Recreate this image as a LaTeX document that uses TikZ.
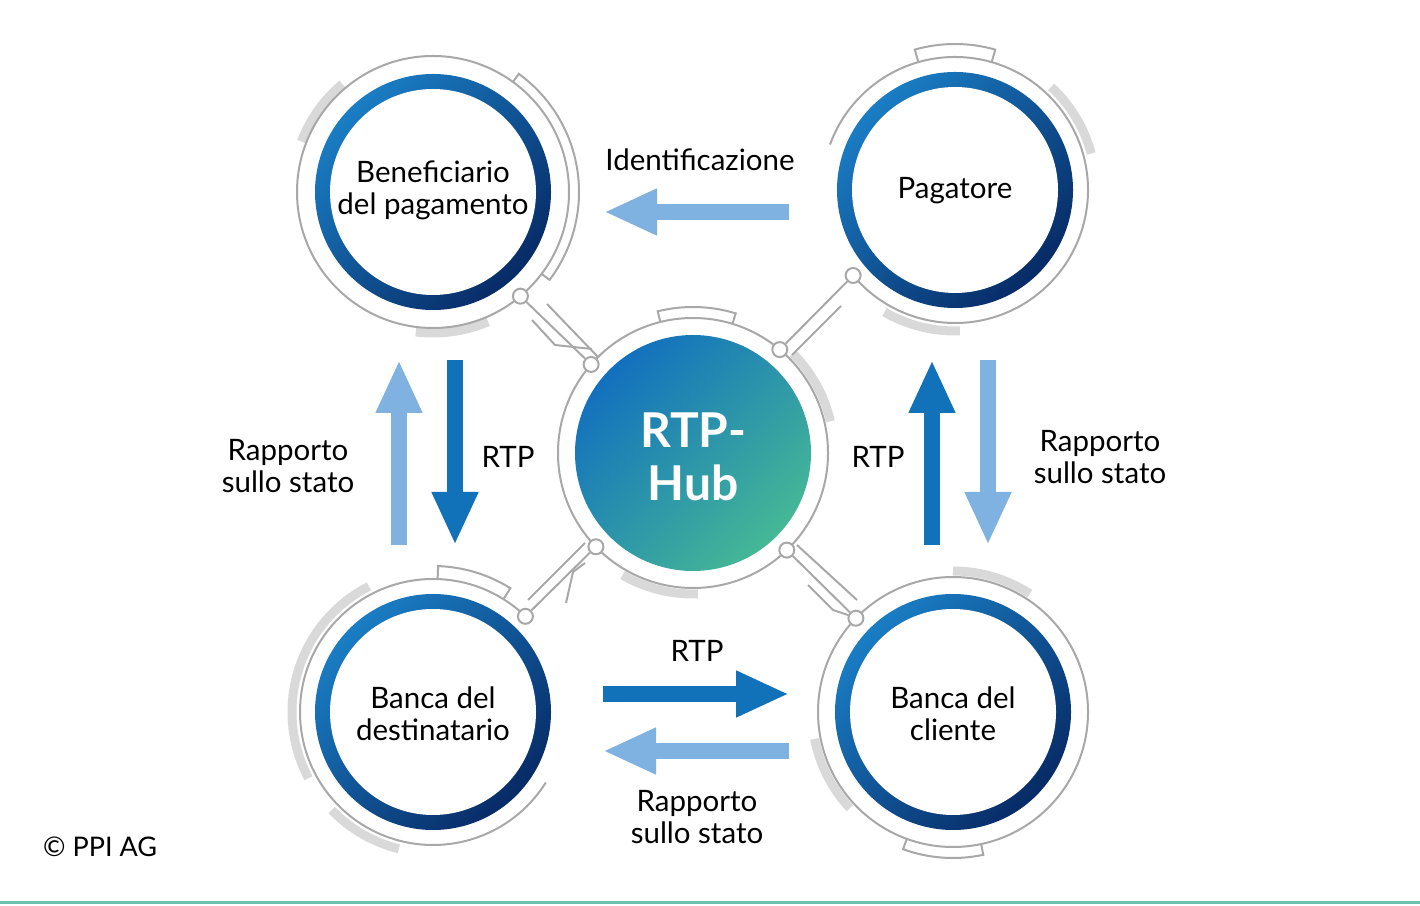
\documentclass[tikz,border=0pt]{standalone}
\usepackage{fontspec}
\setmainfont{Lato}
\usetikzlibrary{arrows.meta}

\definecolor{ringgray}{HTML}{A8A8A8}
\definecolor{bandgray}{HTML}{D9D9D9}
\definecolor{lightblue}{HTML}{7FB2E0}
\definecolor{darkblue}{HTML}{1172BA}
\definecolor{ringtop}{HTML}{1A7DC4}
\definecolor{ringbot}{HTML}{072B66}
\definecolor{hubtop}{HTML}{1270BE}
\definecolor{hubbot}{HTML}{45B896}
\definecolor{tealline}{HTML}{6CC3AE}

\tikzset{
  ring/.style = {draw=ringgray, line width=2pt},
  band/.style = {draw=bandgray, line width=9pt},
  joint/.style = {circle, draw=ringgray, line width=2pt, fill=white, minimum size=15pt, inner sep=0pt},
  bigarrow/.style = {line width=16pt, -{Triangle[length=53pt, width=43pt]}},
  txt/.style = {font=\fontsize{29.5}{32}\selectfont, align=center}
}

% blue ring with white inside
\newcommand{\bluering}[1]{%
  \shade[top color=ringtop, bottom color=ringbot, shading angle=45] (#1) circle (118);
  \fill[white] (#1) circle (103);}
% small bracket outside a ring
\newcommand{\ringtab}[4]{%
  \draw[ring] ([shift={(#2:#4)}]#1) -- ([shift={(#2:146)}]#1)
    arc[start angle=#2, end angle=#3, radius=146] -- ([shift={(#3:#4)}]#1);}
% light gray band
\newcommand{\grayband}[3]{%
  \draw[band] ([shift={(#2:141)}]#1) arc[start angle=#2, end angle=#3, radius=141];}

\begin{document}
\begin{tikzpicture}[x=1pt, y=1pt]
  \useasboundingbox (0,0) rectangle (1420,905);

  \coordinate (ben) at (433,713);
  \coordinate (pag) at (955,715);
  \coordinate (hub) at (693,452);
  \coordinate (dest) at (433,193);
  \coordinate (cli) at (953,193);

  % gray bands
  \grayband{ben}{130}{159}
  \grayband{ben}{263}{293}
  \grayband{pag}{15}{47}
  \grayband{pag}{240}{272}
  \grayband{hub}{13}{45}
  \grayband{hub}{240}{272}
  \grayband{dest}{117}{208}
  \grayband{dest}{224}{256}
  \grayband{cli}{57}{90}
  \grayband{cli}{191}{223}

  % outer rings
  \draw[ring] (ben) circle (136);
  \ringtab{ben}{-37}{54}{136}
  \draw[ring] ([shift={(220:133)}]pag) arc[start angle=220, end angle=520, radius=133];
  \ringtab{pag}{74}{106}{133}
  \draw[ring] (hub) circle (135);
  \ringtab{hub}{73}{104}{135}
  \draw[ring] ([shift={(46:133)}]dest) arc[start angle=46, end angle=328, radius=133];
  \ringtab{dest}{58}{88}{133}
  \draw[ring] (cli) circle (135);
  \ringtab{cli}{250}{282}{135}

  % blue rings and hub
  \bluering{ben}
  \bluering{pag}
  \bluering{dest}
  \bluering{cli}
  \shade[top color=hubtop, bottom color=hubbot, shading angle=45] (hub) circle (118);

  % joints
  \node[joint] (benj) at ([shift={(-50:136)}]ben) {};
  \node[joint] (pagj) at ([shift={(220:133)}]pag) {};
  \node[joint] (destj) at ([shift={(46:133)}]dest) {};
  \node[joint] (clij) at ([shift={(136:135)}]cli) {};
  \node[joint] (hubj1) at ([shift={(139:135)}]hub) {};
  \node[joint] (hubj2) at ([shift={(50:135)}]hub) {};
  \node[joint] (hubj3) at ([shift={(224:135)}]hub) {};
  \node[joint] (hubj4) at ([shift={(314:135)}]hub) {};

  % connectors
  \draw[ring] (benj) -- (hubj1);
  \draw[ring] (547,601) -- (598,548);
  \draw[ring] (532,585) -- (555,560) -- (592,556);
  \draw[ring] (pagj) -- (hubj2);
  \draw[ring] (841,599) -- (792,550);
  \draw[ring] (destj) -- (hubj3);
  \draw[ring] (585,362) -- (528,305);
  \draw[ring] (566,302) -- (573,333) -- (585,342);
  \draw[ring] (clij) -- (hubj4);
  \draw[ring] (797,360) -- (857,305);
  \draw[ring] (808,320) -- (833,295) -- (848,290);

  % texts
  \node[txt] (bentext) at ([yshift=2]ben) {Beneficiario\\del pagamento};
  \node[txt] (pagtext) at ([yshift=-1]pag) {Pagatore};
  \node[txt] (desttext) at ([yshift=-2]dest) {Banca del\\destinatario};
  \node[txt] (clitext) at ([yshift=-2]cli) {Banca del\\cliente};
  \node[font=\fontsize{48}{53}\selectfont\bfseries, text=white, align=center] (hubtext) at ([yshift=-4]hub) {RTP-\\Hub};

  % block arrows
  \coordinate (idS) at (789,693);
  \coordinate (idE) at (604,693);
  \draw[bigarrow, lightblue] (idS) -- (idE);
  \node[txt] (idtext) at (700,745) {Identificazione};

  \coordinate (lupS) at (399,360);
  \coordinate (lupE) at (399,545);
  \draw[bigarrow, lightblue] (lupS) -- (lupE);
  \coordinate (ldnS) at (455,545);
  \coordinate (ldnE) at (455,360);
  \draw[bigarrow, darkblue] (ldnS) -- (ldnE);
  \node[txt] (lrtp) at (508,448) {RTP};
  \node[txt] (lstato) at (288,439) {Rapporto\\sullo stato};

  \coordinate (rupS) at (932,360);
  \coordinate (rupE) at (932,545);
  \draw[bigarrow, darkblue] (rupS) -- (rupE);
  \coordinate (rdnS) at (988,545);
  \coordinate (rdnE) at (988,360);
  \draw[bigarrow, lightblue] (rdnS) -- (rdnE);
  \node[txt] (rrtp) at (878,448) {RTP};
  \node[txt] (rstato) at (1100,448) {Rapporto\\sullo stato};

  \coordinate (brS) at (603,211);
  \coordinate (brE) at (789,211);
  \draw[bigarrow, darkblue] (brS) -- (brE);
  \coordinate (blS) at (789,154);
  \coordinate (blE) at (603,154);
  \draw[bigarrow, lightblue] (blS) -- (blE);
  \node[txt] (brtp) at (697,254) {RTP};
  \node[txt] (bstato) at (697,88) {Rapporto\\sullo stato};

  % footer
  \node[font=\fontsize{27}{32}\selectfont, anchor=west, inner sep=0pt] (copy) at (43,58) {© PPI AG};
  \draw[tealline, line width=3pt] (0,3) -- (1420,3);
\end{tikzpicture}
\end{document}
